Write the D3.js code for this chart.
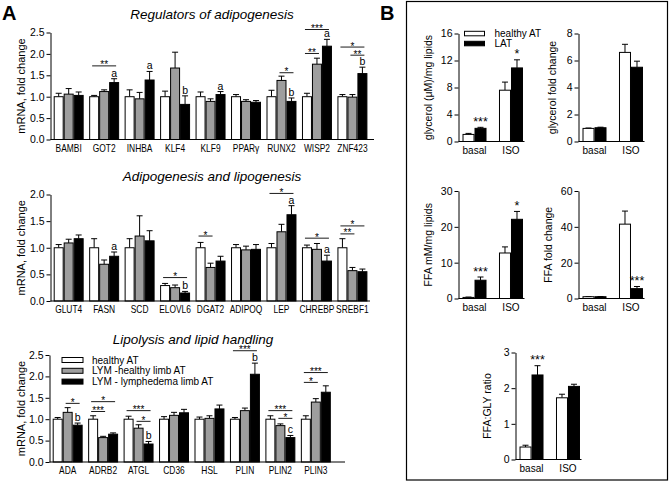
<!DOCTYPE html>
<html>
<head>
<meta charset="utf-8">
<script src="https://cdn.jsdelivr.net/npm/d3@7"></script>
<style>
  body { margin: 0; background: #fff; }
  svg { display: block; font-family: Arial, "Liberation Sans", sans-serif; }
</style>
</head>
<body>
<script>
// ---- panel A: mRNA fold change, mean and SEM for the three groups ----
const groupNames = ["healthy AT", "LYM -healthy limb AT", "LYM - lymphedema limb AT"];

const regCats = ["BAMBI", "GOT2", "INHBA", "KLF4", "KLF9", "PPARγ", "RUNX2", "WISP2", "ZNF423"];
const regHealthy = [1.0, 1.0, 1.0, 1.0, 1.0, 1.0, 1.0, 1.0, 1.0];
const regHealthyErr = [0.08, 0.03, 0.16, 0.13, 0.11, 0.05, 0.15, 0.08, 0.05];
const regLymHealthy = [1.06, 1.12, 0.95, 1.67, 0.89, 0.89, 1.38, 1.76, 0.99];
const regLymHealthyErr = [0.13, 0.04, 0.15, 0.37, 0.06, 0.04, 0.10, 0.14, 0.06];
const regLymLimb = [1.03, 1.33, 1.39, 0.82, 1.05, 0.87, 0.89, 2.18, 1.54];
const regLymLimbErr = [0.08, 0.09, 0.20, 0.20, 0.07, 0.04, 0.08, 0.16, 0.15];
// [category, from group, to group, bracket level, label]
const regSig = [["GOT2", 0, 2, 1.72, "**"], ["RUNX2", 1, 2, 1.56, "*"], ["WISP2", 0, 1, 2.01, "**"],
  ["WISP2", 0, 2, 2.57, "***"], ["ZNF423", 0, 2, 2.16, "*"], ["ZNF423", 1, 2, 1.97, "**"]];
const regLetters = [["GOT2", 2, "a"], ["INHBA", 2, "a"], ["KLF4", 2, "b"], ["KLF9", 2, "a"],
  ["RUNX2", 2, "b"], ["WISP2", 2, "a"], ["ZNF423", 2, "b"]];

const lipCats = ["GLUT4", "FASN", "SCD", "ELOVL6", "DGAT2", "ADIPOQ", "LEP", "CHREBP", "SREBF1"];
const lipHealthy = [1.0, 1.0, 1.0, 0.29, 1.0, 1.0, 1.0, 1.0, 1.0];
const lipHealthyErr = [0.06, 0.17, 0.17, 0.04, 0.10, 0.06, 0.08, 0.05, 0.17];
const lipLymHealthy = [1.09, 0.69, 1.22, 0.25, 0.63, 0.96, 1.30, 0.97, 0.57];
const lipLymHealthyErr = [0.07, 0.08, 0.38, 0.05, 0.08, 0.07, 0.14, 0.11, 0.06];
const lipLymLimb = [1.17, 0.84, 1.13, 0.15, 0.75, 0.97, 1.62, 0.75, 0.55];
const lipLymLimbErr = [0.07, 0.08, 0.19, 0.03, 0.09, 0.09, 0.17, 0.11, 0.05];
const lipSig = [["ELOVL6", 0, 2, 0.44, "*"], ["DGAT2", 0, 1, 1.22, "*"], ["LEP", 0, 2, 2.02, "*"],
  ["CHREBP", 0, 2, 1.18, "*"], ["SREBF1", 0, 1, 1.26, "**"], ["SREBF1", 0, 2, 1.41, "*"]];
const lipLetters = [["FASN", 2, "a"], ["ELOVL6", 2, "b"], ["LEP", 2, "a"], ["CHREBP", 2, "a"]];

const lpCats = ["ADA", "ADRB2", "ATGL", "CD36", "HSL", "PLIN", "PLIN2", "PLIN3"];
const lpHealthy = [1.0, 1.0, 1.0, 1.0, 1.0, 1.0, 1.0, 1.0];
const lpHealthyErr = [0.04, 0.08, 0.07, 0.06, 0.05, 0.04, 0.08, 0.08];
const lpLymHealthy = [1.16, 0.57, 0.79, 1.09, 1.02, 1.20, 0.85, 1.40];
const lpLymHealthyErr = [0.11, 0.03, 0.08, 0.07, 0.06, 0.06, 0.04, 0.08];
const lpLymLimb = [0.86, 0.65, 0.42, 1.15, 1.24, 2.05, 0.57, 1.63];
const lpLymLimbErr = [0.05, 0.03, 0.06, 0.08, 0.09, 0.26, 0.05, 0.15];
const lpSig = [["ADA", 1, 2, 1.37, "*"], ["ADRB2", 0, 2, 1.41, "*"], ["ADRB2", 0, 1, 1.18, "***"],
  ["ATGL", 0, 2, 1.20, "***"], ["ATGL", 1, 2, 0.95, "*"], ["PLIN", 0, 2, 2.60, "***"],
  ["PLIN2", 0, 2, 1.20, "***"], ["PLIN2", 1, 2, 1.02, "*"], ["PLIN3", 0, 2, 2.09, "***"], ["PLIN3", 0, 1, 1.86, "*"]];
const lpLetters = [["ADA", 2, "b"], ["ATGL", 2, "b"], ["PLIN", 2, "b"], ["PLIN2", 2, "c"]];

// ---- panel B: explant lipolysis, healthy AT vs LAT ----
const bNames = ["healthy AT", "LAT"];
const bCats = ["basal", "ISO"];
const glyHealthy = [1.05, 7.6], glyHealthyErr = [0.15, 1.2];
const glyLAT = [1.95, 10.9], glyLATErr = [0.15, 1.2];
const glyFoldHealthy = [0.97, 6.6], glyFoldHealthyErr = [0.03, 0.6];
const glyFoldLAT = [1.02, 5.5], glyFoldLATErr = [0.04, 0.45];
const ffaHealthy = [0.3, 12.7], ffaHealthyErr = [0.1, 1.7];
const ffaLAT = [5.1, 22.1], ffaLATErr = [0.9, 2.2];
const ffaFoldHealthy = [1.0, 41.5], ffaFoldHealthyErr = [0.1, 7.3];
const ffaFoldLAT = [1.0, 5.5], ffaFoldLATErr = [0.1, 1.2];
const ratioHealthy = [0.35, 1.73], ratioHealthyErr = [0.05, 0.1];
const ratioLAT = [2.37, 2.05], ratioLATErr = [0.26, 0.06];

const fills = ["#ffffff", "#9e9e9e", "#000000"];
const fillsB = ["#ffffff", "#000000"];

const svg = d3.select("body").append("svg").attr("width", 669).attr("height", 482);

function bars(g, x, y, cats, series, errs, colors, capW) {
  const sub = d3.scaleBand().domain(d3.range(series.length)).range([0, x.bandwidth()]);
  const rows = cats.flatMap((c, i) => series.map((s, k) => ({ c, k, v: s[i], e: errs[k][i] })));
  const mid = d => x(d.c) + sub(d.k) + sub.bandwidth() / 2;
  g.selectAll(null).data(rows).join("line")
    .attr("x1", mid).attr("x2", mid)
    .attr("y1", d => y(d.v)).attr("y2", d => y(d.v + d.e))
    .attr("stroke", "#000").attr("stroke-width", 1);
  g.selectAll(null).data(rows).join("line")
    .attr("x1", d => mid(d) - capW).attr("x2", d => mid(d) + capW)
    .attr("y1", d => y(d.v + d.e)).attr("y2", d => y(d.v + d.e))
    .attr("stroke", "#000").attr("stroke-width", 1);
  g.selectAll(null).data(rows).join("rect")
    .attr("x", d => x(d.c) + sub(d.k) + 0.5)
    .attr("width", sub.bandwidth() - 1)
    .attr("y", d => y(d.v))
    .attr("height", d => y(0) - y(d.v))
    .attr("fill", d => colors[d.k])
    .attr("stroke", "#000").attr("stroke-width", 1);
  return { sub };
}

function yAxis(g, y, left, ticks, fmt, size) {
  const ax = g.append("g").attr("transform", `translate(${left},0)`)
    .call(d3.axisLeft(y).tickValues(ticks).tickSize(4).tickSizeOuter(0).tickPadding(2).tickFormat(fmt));
  ax.attr("font-family", null);
  ax.selectAll("text").attr("font-size", size).attr("fill", "#000");
  ax.selectAll("line,path").attr("stroke", "#000");
}

function drawA(o) {
  const g = svg.append("g");
  const x = d3.scaleBand().domain(o.cats).range([o.left, o.right]).paddingInner(0.155).paddingOuter(0.09);
  const y = d3.scaleLinear().domain([0, o.yMax]).range([o.bottom, o.top]);
  const { sub } = bars(g, x, y, o.cats, o.series, o.errs, fills, 3);
  const cx = (c, k) => x(c) + sub(k) + sub.bandwidth() / 2;

  yAxis(g, y, o.left, d3.range(0, o.yMax + 0.01, 0.5), d3.format(".1f"), 10.5);
  g.append("line").attr("x1", o.left).attr("x2", o.axisEnd)
    .attr("y1", y(0)).attr("y2", y(0)).attr("stroke", "#000");

  // gene names are set condensed in the figure
  g.selectAll(null).data(o.cats).join("text")
    .attr("transform", c => `translate(${x(c) + x.bandwidth() / 2},${y(0) + 12}) scale(0.8,1)`)
    .attr("text-anchor", "middle").attr("font-size", 10.5)
    .text(c => c);

  g.append("text").attr("transform", `translate(${o.labelX},${(o.top + o.bottom) / 2}) rotate(-90)`)
    .attr("text-anchor", "middle").attr("font-size", 11).text("mRNA, fold change");

  g.append("text").attr("x", o.titleX).attr("y", o.titleY).attr("text-anchor", "middle")
    .attr("font-size", 13.5).attr("font-style", "italic").text(o.title);

  // significance brackets
  g.selectAll(null).data(o.sig).join("line")
    .attr("x1", d => cx(d[0], d[1]) - 2).attr("x2", d => cx(d[0], d[2]) + 2)
    .attr("y1", d => y(d[3])).attr("y2", d => y(d[3]))
    .attr("stroke", "#000").attr("stroke-width", 0.9);
  g.selectAll(null).data(o.sig).join("text")
    .attr("x", d => (cx(d[0], d[1]) + cx(d[0], d[2])) / 2).attr("y", d => y(d[3]) + 2.5)
    .attr("text-anchor", "middle").attr("font-size", 10).text(d => d[4]);

  // letters over the error bars
  const idx = c => o.cats.indexOf(c);
  g.selectAll(null).data(o.letters).join("text")
    .attr("x", d => cx(d[0], d[1]))
    .attr("y", d => y(o.series[d[1]][idx(d[0])] + o.errs[d[1]][idx(d[0])]) - 2)
    .attr("text-anchor", "middle").attr("font-size", 10.5).text(d => d[2]);

  if (o.legend) {
    groupNames.forEach((n, k) => {
      const ly = o.legend[1] + k * 10.8;
      g.append("rect").attr("x", o.legend[0]).attr("y", ly - 2.5).attr("width", 21).attr("height", 5)
        .attr("fill", fills[k]).attr("stroke", "#000");
      g.append("text").attr("x", o.legend[0] + 30).attr("y", ly + 3.5)
        .attr("font-size", 10).text(n);
    });
  }
}

function drawB(o) {
  const g = svg.append("g");
  const x = d3.scaleBand().domain(bCats).range([o.left, o.left + 68.5]).paddingInner(0.342).paddingOuter(0.11);
  const y = d3.scaleLinear().domain([0, o.yMax]).range([o.bottom, o.top]);
  const { sub } = bars(g, x, y, bCats, o.series, o.errs, fillsB, 3);

  yAxis(g, y, o.left, o.ticks, d3.format("d"), 10.5);
  g.append("line").attr("x1", o.left).attr("x2", o.left + 66)
    .attr("y1", y(0)).attr("y2", y(0)).attr("stroke", "#000");

  g.selectAll(null).data(bCats).join("text")
    .attr("x", c => x(c) + x.bandwidth() / 2).attr("y", y(0) + 12)
    .attr("text-anchor", "middle").attr("font-size", 10).text(c => c);

  g.append("text").attr("transform", `translate(${o.labelX},${(o.top + o.bottom) / 2}) rotate(-90)`)
    .attr("text-anchor", "middle").attr("font-size", 10.5).text(o.label);

  g.selectAll(null).data(o.stars).join("text")
    .attr("x", d => x(bCats[d[0]]) + sub(1) + sub.bandwidth() / 2)
    .attr("y", d => y(o.series[1][d[0]] + o.errs[1][d[0]]) - 1.5)
    .attr("text-anchor", "middle").attr("font-size", 12.5).text(d => d[1]);

  if (o.legend) {
    bNames.forEach((n, k) => {
      const ly = o.legend[1] + k * 10;
      g.append("rect").attr("x", o.legend[0]).attr("y", ly - 2.2).attr("width", 20).attr("height", 4.5)
        .attr("fill", fillsB[k]).attr("stroke", "#000");
      g.append("text").attr("x", o.legend[0] + 30).attr("y", ly + 3.5).attr("font-size", 10).text(n);
    });
  }
}

// panel letters and box
svg.append("text").attr("x", 2).attr("y", 20).attr("font-size", 20).attr("font-weight", "bold").text("A");
svg.append("text").attr("x", 380).attr("y", 20).attr("font-size", 20).attr("font-weight", "bold").text("B");
svg.append("rect").attr("x", 406.5).attr("y", 1.5).attr("width", 261).attr("height", 478.5)
  .attr("fill", "none").attr("stroke", "#000").attr("stroke-width", 1.2);

drawA({ cats: regCats, series: [regHealthy, regLymHealthy, regLymLimb],
  errs: [regHealthyErr, regLymHealthyErr, regLymLimbErr], yMax: 2.5,
  left: 50.5, right: 370.6, axisEnd: 374, top: 32.5, bottom: 139.5, labelX: 25,
  title: "Regulators of adipogenesis", titleX: 212, titleY: 19, sig: regSig, letters: regLetters });

drawA({ cats: lipCats, series: [lipHealthy, lipLymHealthy, lipLymLimb],
  errs: [lipHealthyErr, lipLymHealthyErr, lipLymLimbErr], yMax: 2.0,
  left: 50.5, right: 370.6, axisEnd: 370, top: 194.5, bottom: 301, labelX: 25,
  title: "Adipogenesis and lipogenesis", titleX: 212, titleY: 181, sig: lipSig, letters: lipLetters });

drawA({ cats: lpCats, series: [lpHealthy, lpLymHealthy, lpLymLimb],
  errs: [lpHealthyErr, lpLymHealthyErr, lpLymLimbErr], yMax: 2.5,
  left: 49.5, right: 334, axisEnd: 345, top: 355, bottom: 462, labelX: 25,
  title: "Lipolysis and lipid handling", titleX: 193, titleY: 344, sig: lpSig, letters: lpLetters,
  legend: [62, 360] });

drawB({ series: [glyHealthy, glyLAT], errs: [glyHealthyErr, glyLATErr], yMax: 16, ticks: [0, 4, 8, 12, 16],
  left: 458.5, top: 33.5, bottom: 141.5, labelX: 432, label: "glycerol (μM)/mg lipids",
  stars: [[0, "***"], [1, "*"]], legend: [464.5, 33.5] });
drawB({ series: [glyFoldHealthy, glyFoldLAT], errs: [glyFoldHealthyErr, glyFoldLATErr], yMax: 8, ticks: [0, 2, 4, 6, 8],
  left: 578.5, top: 33.5, bottom: 141.5, labelX: 556, label: "glycerol fold change", stars: [] });
drawB({ series: [ffaHealthy, ffaLAT], errs: [ffaHealthyErr, ffaLATErr], yMax: 30, ticks: [0, 10, 20, 30],
  left: 458.5, top: 191, bottom: 298.5, labelX: 432, label: "FFA mM/mg lipids",
  stars: [[0, "***"], [1, "*"]] });
drawB({ series: [ffaFoldHealthy, ffaFoldLAT], errs: [ffaFoldHealthyErr, ffaFoldLATErr], yMax: 60, ticks: [0, 20, 40, 60],
  left: 578.5, top: 191, bottom: 298.5, labelX: 552, label: "FFA fold change", stars: [[1, "***"]] });
drawB({ series: [ratioHealthy, ratioLAT], errs: [ratioHealthyErr, ratioLATErr], yMax: 3, ticks: [0, 1, 2, 3],
  left: 515.5, top: 352.5, bottom: 459.5, labelX: 491, label: "FFA:GLY ratio", stars: [[0, "***"]] });
</script>
</body>
</html>
